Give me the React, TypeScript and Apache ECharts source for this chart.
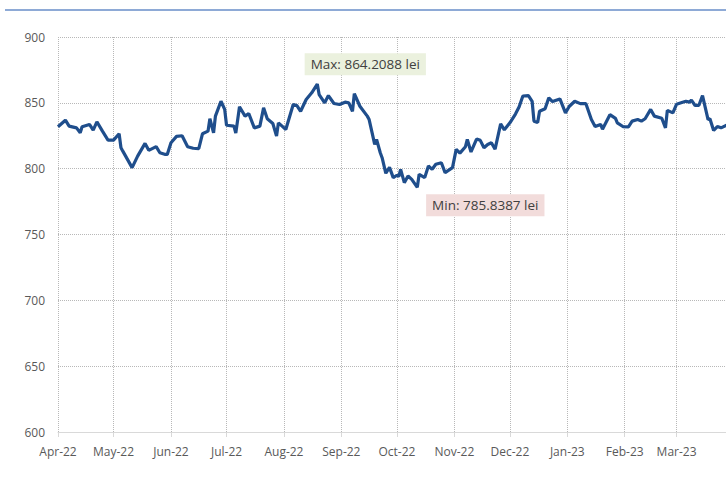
import React, { useEffect, useRef } from "react";
import * as echarts from "echarts";

const dates: string[] = [
  "2022-04-01","2022-04-05","2022-04-07","2022-04-11","2022-04-13","2022-04-14","2022-04-18","2022-04-20","2022-04-22","2022-04-25",
  "2022-04-28","2022-05-01","2022-05-04","2022-05-05","2022-05-06","2022-05-11","2022-05-14","2022-05-18","2022-05-20","2022-05-24",
  "2022-05-26","2022-05-29","2022-05-30","2022-06-01","2022-06-04","2022-06-07","2022-06-10","2022-06-13","2022-06-16","2022-06-18",
  "2022-06-21","2022-06-22","2022-06-24","2022-06-25","2022-06-28","2022-06-30","2022-07-01","2022-07-05","2022-07-06","2022-07-08",
  "2022-07-11","2022-07-13","2022-07-16","2022-07-19","2022-07-21","2022-07-23","2022-07-26","2022-07-28","2022-07-29","2022-07-31",
  "2022-08-02","2022-08-06","2022-08-08","2022-08-10","2022-08-13","2022-08-16","2022-08-19","2022-08-20","2022-08-23","2022-08-25",
  "2022-08-28","2022-08-31","2022-09-03","2022-09-05","2022-09-07","2022-09-08","2022-09-11","2022-09-15","2022-09-16","2022-09-19",
  "2022-09-20","2022-09-22","2022-09-23","2022-09-25","2022-09-27","2022-09-29","2022-10-01","2022-10-02","2022-10-03","2022-10-05",
  "2022-10-07","2022-10-09","2022-10-12","2022-10-13","2022-10-16","2022-10-18","2022-10-20","2022-10-22","2022-10-25","2022-10-27",
  "2022-10-31","2022-11-02","2022-11-04","2022-11-07","2022-11-08","2022-11-10","2022-11-13","2022-11-15","2022-11-17","2022-11-19",
  "2022-11-21","2022-11-23","2022-11-26","2022-11-28","2022-12-01","2022-12-04","2022-12-06","2022-12-08","2022-12-11","2022-12-13",
  "2022-12-14","2022-12-16","2022-12-17","2022-12-20","2022-12-22","2022-12-24","2022-12-28","2022-12-31","2023-01-02","2023-01-05",
  "2023-01-08","2023-01-11","2023-01-14","2023-01-16","2023-01-19","2023-01-20","2023-01-24","2023-01-27","2023-01-28","2023-01-31",
  "2023-02-03","2023-02-05","2023-02-08","2023-02-10","2023-02-12","2023-02-15","2023-02-17","2023-02-21","2023-02-23","2023-02-24",
  "2023-02-27","2023-03-01","2023-03-03","2023-03-06","2023-03-08","2023-03-09","2023-03-11","2023-03-13","2023-03-15","2023-03-18",
  "2023-03-19","2023-03-21","2023-03-23","2023-03-25","2023-03-28",
];

const values: number[] = [
  831.8,836.8,832.3,831.0,827.3,831.8,833.6,829.3,835.6,828.5,
  821.7,821.7,826.5,815.9,813.3,800.8,809.5,819.2,813.9,816.7,
  812.1,810.8,810.8,819.7,824.5,825.0,816.7,815.5,815.2,826.5,
  828.5,837.9,827.3,839.9,851.2,845.0,833.0,832.3,827.0,847.0,
  839.9,841.9,831.0,832.3,846.2,837.9,834.3,824.7,834.8,832.3,
  829.8,848.7,847.9,843.6,852.5,857.6,864.2088,856.3,850.0,855.5,
  849.5,848.7,850.5,850.0,843.6,857.0,847.4,839.9,837.3,818.4,
  822.2,812.1,808.3,796.5,801.0,793.2,795.0,794.0,799.5,789.4,
  794.4,791.9,785.8387,795.7,793.2,802.0,799.5,803.3,804.5,797.0,
  800.8,814.6,811.8,816.7,822.2,812.7,822.5,821.5,815.9,818.4,
  819.7,814.8,834.0,829.5,834.8,841.5,847.0,855.2,855.5,851.2,
  836.1,835.0,843.6,845.5,853.8,851.0,853.0,842.4,847.2,851.2,
  849.4,849.5,837.3,832.0,833.6,830.0,841.0,838.2,834.8,832.0,
  831.8,836.1,837.3,836.1,837.9,845.0,839.9,838.3,831.0,844.3,
  842.4,849.0,849.9,851.2,850.5,852.0,848.0,848.0,855.5,837.3,
  837.9,829.0,832.0,831.0,833.0,
];

const monthNames: string[] = ["Jan","Feb","Mar","Apr","May","Jun","Jul","Aug","Sep","Oct","Nov","Dec"];
const yTicks = { min: 600, max: 900, interval: 50 };
const xRange = { min: "2022-04-01", max: "2023-04-01" };

export default function App() {
  const ref = useRef<HTMLDivElement>(null);
  useEffect(() => {
    if (!ref.current) return;
    const chart = echarts.init(ref.current, undefined, { renderer: "svg" });
    let maxI = 0, minI = 0;
    values.forEach((v, i) => {
      if (v > values[maxI]) maxI = i;
      if (v < values[minI]) minI = i;
    });
    const font = "'Open Sans', sans-serif";
    chart.setOption({
      animation: false,
      backgroundColor: "#ffffff",
      grid: { left: 58, right: 26, top: 37, bottom: 45 },
      graphic: [
        {
          type: "line",
          shape: { x1: 5, y1: 10, x2: 760, y2: 10 },
          style: { stroke: "#8eaad6", lineWidth: 2 },
        },
      ],
      xAxis: {
        type: "time",
        min: xRange.min,
        max: xRange.max,
        splitNumber: 12,
        axisLine: { show: true, lineStyle: { color: "#d9d9d9", width: 1 } },
        axisTick: { show: true, length: 5, lineStyle: { color: "#d9d9d9" } },
        axisLabel: {
          color: "#595959",
          fontFamily: font,
          fontSize: 12,
          margin: 13,
          showMaxLabel: false,
          formatter: (val: number) => {
            const d = new Date(val);
            if (d.getFullYear() === 2023 && d.getMonth() >= 3) return "";
            return monthNames[d.getMonth()] + "-" + String(d.getFullYear()).slice(2);
          },
        },
        splitLine: { show: true, lineStyle: { color: "#b8b8b8", type: "dotted", width: 1 } },
      },
      yAxis: {
        type: "value",
        min: yTicks.min,
        max: yTicks.max,
        interval: yTicks.interval,
        axisLine: { show: false },
        axisTick: { show: false },
        axisLabel: { color: "#595959", fontFamily: font, fontSize: 12, margin: 13 },
        splitLine: { show: true, lineStyle: { color: "#b8b8b8", type: "dotted", width: 1 } },
      },
      series: [
        {
          type: "line",
          data: dates.map((d, i) => [d, values[i]]),
          symbol: "none",
          lineStyle: { color: "#1f4e8c", width: 3.2 },
          markPoint: {
            symbol: "circle",
            symbolSize: 1,
            itemStyle: { color: "rgba(0,0,0,0)" },
            data: [
              {
                coord: [dates[maxI], values[maxI]],
                label: {
                  show: true,
                  position: "inside",
                  offset: [48, -20],
                  formatter: `Max: ${values[maxI]} lei`,
                  backgroundColor: "#ebf1de",
                  padding: [4, 6, 4, 6],
                  color: "#404040",
                  fontFamily: font,
                  fontSize: 13.5,
                },
              },
              {
                coord: [dates[minI], values[minI]],
                label: {
                  show: true,
                  position: "inside",
                  offset: [68, 18],
                  formatter: `Min: ${values[minI]} lei`,
                  backgroundColor: "#f2dcdb",
                  padding: [4, 6, 4, 6],
                  color: "#404040",
                  fontFamily: font,
                  fontSize: 13.5,
                },
              },
            ],
          },
        },
      ],
    });
    return () => chart.dispose();
  }, []);
  return (
    <div style={{ position: "fixed", left: 0, top: 0, width: 726, height: 477, overflow: "hidden", background: "#fff" }}>
      <div ref={ref} style={{ width: 760, height: 477 }} />
    </div>
  );
}
